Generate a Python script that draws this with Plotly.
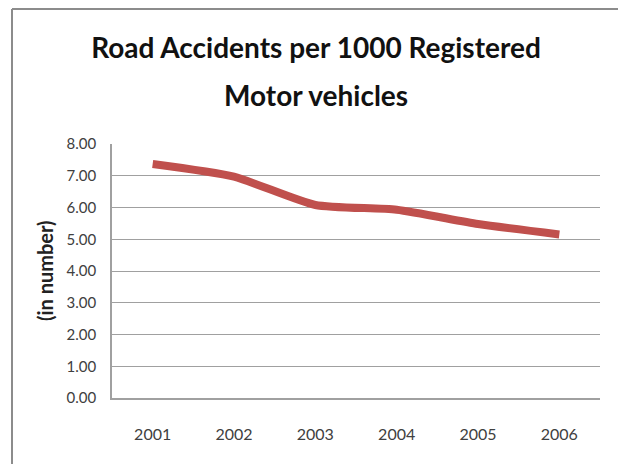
import plotly.graph_objects as go

years = ["2001", "2002", "2003", "2004", "2005", "2006"]
accidents_per_1000 = [7.37, 6.97, 6.08, 5.93, 5.48, 5.15]
y_ticks = [0, 1, 2, 3, 4, 5, 6, 7, 8]
y_tick_labels = ["%.2f" % v for v in y_ticks]

W, H = 626, 464
OFF = 8  # page body margin shifts the figure by this much
L, T = 112 - OFF, 144 - OFF
R, B = W - (600 - OFF), H - (398 - OFF)
pw, ph = W - L - R, H - T - B

def px_x(x):
    return (x - OFF - L) / pw

def px_y(y):
    return (H - B - (y - OFF)) / ph

face = "Lato, Roboto, sans-serif"
axis_grey = "#A0A0A0"

fig = go.Figure()
fig.add_trace(go.Scatter(
    x=years,
    y=accidents_per_1000,
    mode="lines",
    line=dict(color="#C0504D", width=8, shape="spline", smoothing=0.6),
    showlegend=False,
))

fig.update_layout(
    width=W, height=H,
    margin=dict(l=L, r=R, t=T, b=B),
    paper_bgcolor="white",
    plot_bgcolor="white",
    font=dict(family=face, color="#404040"),
    title=dict(
        text="Road Accidents per 1000 Registered",
        font=dict(family=face, size=28, color="#111111", weight="bold"),
        x=(316 - OFF) / W, xanchor="center",
        y=1 - (48 - OFF) / H, yanchor="middle", yref="container",
    ),
)

# second title line sits lower than plotly's line height allows
fig.add_annotation(
    text="<b>Motor vehicles</b>",
    xref="paper", yref="paper",
    x=px_x(316), y=px_y(95),
    xanchor="center", yanchor="middle",
    showarrow=False,
    font=dict(family=face, size=28, color="#111111"),
)

fig.add_annotation(
    text="<b>(in number)</b>",
    xref="paper", yref="paper",
    x=px_x(45), y=0.5,
    xanchor="center", yanchor="middle",
    textangle=-90,
    showarrow=False,
    font=dict(family=face, size=20, color="#222222"),
)

fig.update_xaxes(
    type="category",
    range=[-0.5, 5.5],
    showline=True, linecolor=axis_grey, linewidth=1.5,
    showgrid=False,
    ticks="",
    tickfont=dict(family=face, size=16, color="#404040"),
    ticklabelstandoff=21,
)
fig.update_yaxes(
    range=[0, 8],
    tickvals=y_ticks,
    ticktext=y_tick_labels,
    showline=True, linecolor=axis_grey, linewidth=1.5,
    showgrid=True, gridcolor=axis_grey, gridwidth=1,
    zeroline=False,
    ticks="",
    tickfont=dict(family=face, size=15, color="#404040"),
    ticklabelstandoff=11,
)

# chart frame (top and left edges visible in the reference);
# the top edge is kept just inside the figure so it is not clipped
fig.add_shape(type="line", xref="paper", yref="paper",
              x0=px_x(12), x1=px_x(619), y0=px_y(OFF + 1), y1=px_y(OFF + 1),
              line=dict(color="#8C8C8C", width=2))
fig.add_shape(type="line", xref="paper", yref="paper",
              x0=px_x(12), x1=px_x(12), y0=px_y(OFF + 1), y1=px_y(H + 10),
              line=dict(color="#8C8C8C", width=2))

fig.write_html("out.html")
